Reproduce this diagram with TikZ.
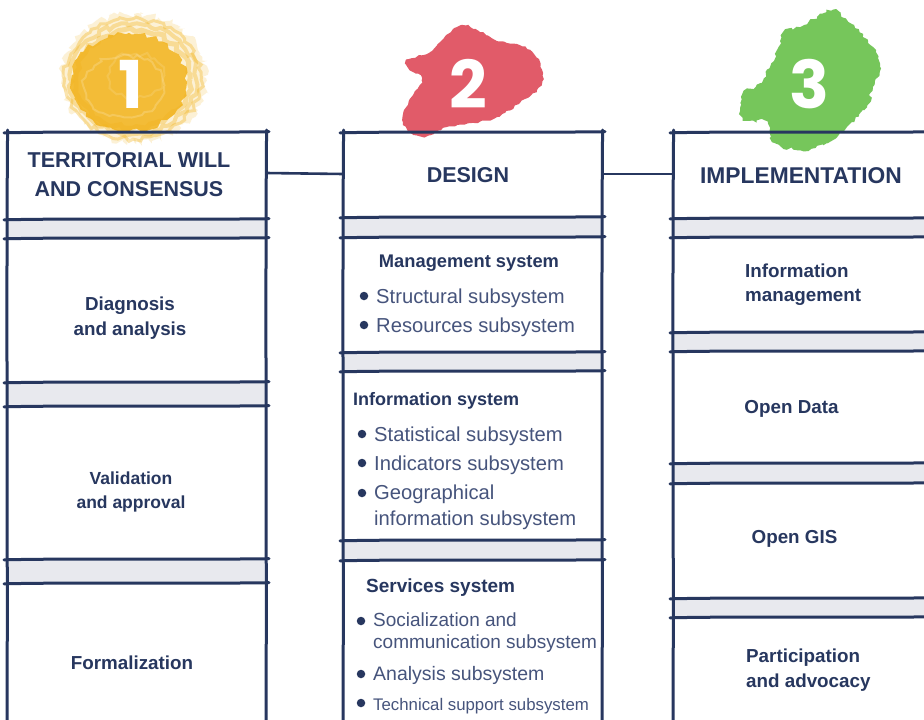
\documentclass[tikz,border=0pt]{standalone}
\usepackage{fontspec}
\setmainfont{Liberation Sans}
\newfontfamily\numfont{Poppins}
\usetikzlibrary{decorations.pathmorphing}
\definecolor{navy}{HTML}{27375F}
\definecolor{bodyc}{HTML}{46547C}
\definecolor{band}{HTML}{E8E9EE}
\definecolor{yel}{HTML}{F2B31C}
\definecolor{redc}{HTML}{DE4A59}
\definecolor{grn}{HTML}{68C04A}
\newcommand\sketchh[3]{\draw[frame] (#1-3,#3+0.8) .. controls (#1+70,#3-0.8) and (#2-70,#3+0.8) .. (#2+3,#3-0.3);}
\newcommand\sketchv[3]{\draw[frame] (#1+0.6,#2-2) .. controls (#1-0.9,#2+150) and (#1+0.9,#3-150) .. (#1,#3);}
\begin{document}
\begin{tikzpicture}[x=1pt,y=-1pt,
  frame/.style={draw=navy,line width=3pt,line cap=round},
  conn/.style={draw=navy,line width=2.6pt},
  hbox/.style={rectangle,draw=none,inner sep=0pt,outer sep=0pt,minimum height=82pt},
  htext/.style={font=\bfseries\fontsize{21.5}{29}\selectfont,text=navy,align=center,inner sep=0pt},
  lab/.style={font=\bfseries\fontsize{18.8}{25}\selectfont,text=navy,align=center,inner sep=0pt},
  sub/.style={font=\bfseries\fontsize{18.3}{24}\selectfont,text=navy,inner sep=0pt},
  bodyt/.style={font=\fontsize{20.2}{26}\selectfont,text=bodyc,inner sep=0pt,align=left},
  bul/.style={circle,fill=navy,inner sep=0pt,minimum size=8.5pt},
  brush/.style={decorate,decoration={random steps,segment length=5pt,amplitude=2.5pt}},
  num/.style={font=\numfont\bfseries\fontsize{66}{66}\selectfont,text=white,inner sep=0pt}]
\useasboundingbox (0,0) rectangle (924,720);
\clip (0,0) rectangle (924,720);
\fill[white] (0,0) rectangle (924,720);
\pgfmathsetseed{7}
% splash 1 (yellow)
\fill[yel,opacity=.18,decorate,decoration={random steps,segment length=3pt,amplitude=4pt}] (134,78) ellipse [x radius=72,y radius=64];
\foreach \r/\w in {68/3,63/4,57/5} {\draw[yel,opacity=.35,line width=\w pt,brush] (133,79) ellipse [x radius=\r,y radius=\r-8];}
\fill[yel,opacity=.85,brush] (129,82) ellipse [x radius=58,y radius=49];
\draw[white,opacity=.18,line width=2pt,brush] (124,86) ellipse [x radius=40,y radius=31];
\draw[white,opacity=.12,line width=2pt,brush] (136,76) ellipse [x radius=28,y radius=22];
% splash 2 (red)
\fill[redc,opacity=.9,decorate,decoration={random steps,segment length=3pt,amplitude=1.2pt}] plot[smooth cycle,tension=.7] coordinates {(407,60) (430,52) (448,34) (462,25) (480,32) (492,38) (507,43) (530,50) (543,73) (537,90) (520,103) (497,117) (473,123) (447,127) (423,137) (403,122) (413,95) (422,78) (410,70)};
% splash 3 (green)
\fill[grn,opacity=.9,decorate,decoration={random steps,segment length=3pt,amplitude=1.8pt}] plot[smooth cycle,tension=.6] coordinates {(833,10) (847,20) (873,47) (880,67) (873,87) (867,107) (847,127) (827,143) (800,150) (772,142) (767,122) (743,120) (743,93) (760,83) (777,50) (783,33) (800,27) (817,17)};
% numbers
\node[num] (n1) at (131,84) {1};
\node[num] (n2) at (468,84) {2};
\node[num] (n3) at (809,84) {3};
% column 1 frame
\fill[band] (7,219) rectangle (266,238);
\fill[band] (7,382) rectangle (266,406);
\fill[band] (7,559) rectangle (266,583);
\foreach \yy in {132,219,238,382,406,559,583} {\sketchh{7}{266}{\yy}}
\sketchv{7}{132}{724}
\sketchv{266}{132}{724}
% column 2 frame
\fill[band] (343,217) rectangle (602,237);
\fill[band] (343,352) rectangle (602,371);
\fill[band] (343,540) rectangle (602,560);
\foreach \yy in {132,217,237,352,371,540,560} {\sketchh{343}{602}{\yy}}
\sketchv{343}{132}{724}
\sketchv{602}{132}{724}
% column 3 frame
\fill[band] (673,218) rectangle (940,237);
\fill[band] (673,332) rectangle (940,351);
\fill[band] (673,463) rectangle (940,483);
\fill[band] (673,598) rectangle (940,617);
\foreach \yy in {132,218,237,332,351,463,483,598,617} {\sketchh{673}{940}{\yy}}
\sketchv{673}{132}{724}
% header boxes and connectors
\node[hbox,minimum width=259pt] (h1) at (136.5,173) {};
\node[hbox,minimum width=259pt] (h2) at (472.5,174) {};
\node[hbox,minimum width=267pt] (h3) at (806.5,174) {};
\draw[conn] (h1.east) -- (h2.west);
\draw[conn] (h2.east) -- (h3.west);
\node[htext] (t1) at (129,175) {TERRITORIAL WILL\\AND CONSENSUS};
\node[htext,anchor=base] (t2) at (468,182) {DESIGN};
\node[htext,anchor=base,font=\bfseries\fontsize{22.8}{29}\selectfont] (t3) at (801,183) {IMPLEMENTATION};
% column 1 cells
\node[lab] (d1) at (130,317.7) {Diagnosis\\and analysis};
\node[lab,font=\bfseries\fontsize{17.5}{24}\selectfont] (v1) at (131,492.4) {Validation\\and approval};
\node[lab,anchor=base] (f1) at (132,669) {Formalization};
% column 2 cells
\node[sub,anchor=base] (ms) at (469,267) {Management system};
\node[bul] (b1) at (364,296) {};
\node[bodyt,anchor=base west] (s1) at (376,303) {Structural subsystem};
\node[bul] (b2) at (364,325) {};
\node[bodyt,anchor=base west] (s2) at (376,332) {Resources subsystem};
\node[sub,anchor=base west,font=\bfseries\fontsize{18}{24}\selectfont] (is) at (353,405) {Information system};
\node[bul] (b3) at (362,434) {};
\node[bodyt,anchor=base west] (s3) at (374,441) {Statistical subsystem};
\node[bul] (b4) at (362,463) {};
\node[bodyt,anchor=base west] (s4) at (374,470) {Indicators subsystem};
\node[bul] (b5) at (362,493) {};
\node[bodyt,anchor=west] (s5) at (374,506.8) {Geographical\\information subsystem};
\node[sub,anchor=base west,font=\bfseries\fontsize{19}{24}\selectfont] (ss) at (366,592) {Services system};
\node[bul] (b6) at (361,621) {};
\node[bodyt,anchor=west,font=\fontsize{19}{22}\selectfont] (s6) at (373,633) {Socialization and\\communication subsystem};
\node[bul] (b7) at (361,674) {};
\node[bodyt,anchor=base west,font=\fontsize{19.5}{24}\selectfont] (s7) at (373,680) {Analysis subsystem};
\node[bul] (b8) at (361,703) {};
\node[bodyt,anchor=base west,font=\fontsize{16.8}{20}\selectfont] (s8) at (373,710) {Technical support subsystem};
% column 3 cells
\node[lab,align=left,anchor=west,font=\bfseries\fontsize{18.8}{24}\selectfont] (im) at (745,285) {Information\\management};
\node[lab,anchor=base] (od) at (791.5,413) {Open Data};
\node[lab,anchor=base] (og) at (794.5,543) {Open GIS};
\node[lab,align=left,anchor=west] (pa) at (746,670.5) {Participation\\and advocacy};
\end{tikzpicture}
\end{document}
